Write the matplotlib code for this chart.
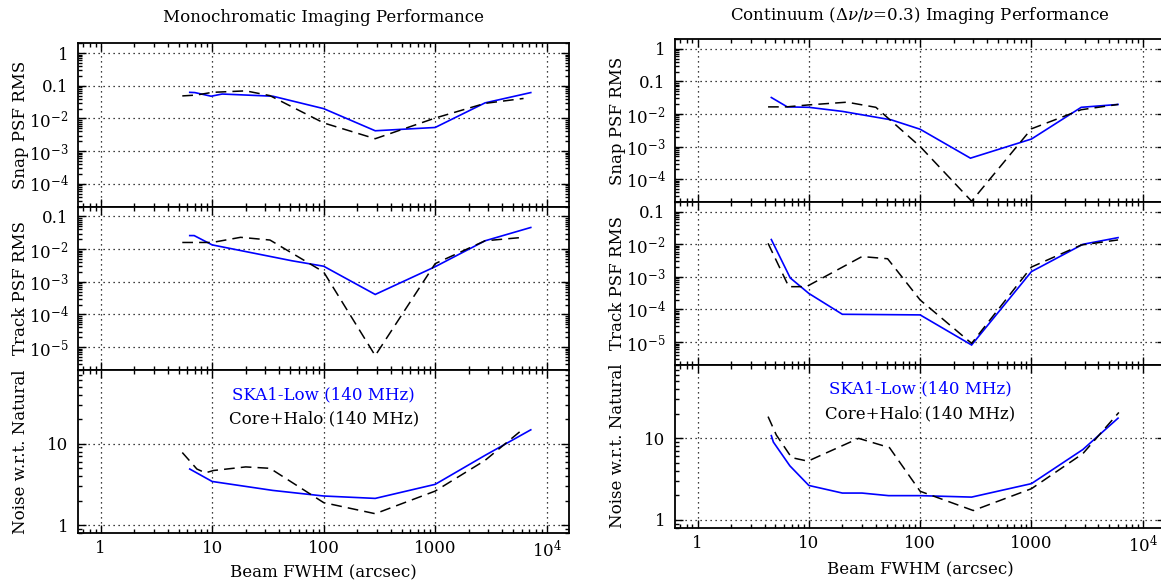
import numpy as np
import matplotlib
matplotlib.use('Agg')
import matplotlib.pyplot as plt
from matplotlib.ticker import LogLocator, FixedLocator, FixedFormatter, NullFormatter

plt.rcParams['font.family'] = ['DejaVu Serif']
plt.rcParams['mathtext.fontset'] = 'dejavuserif'

# ---------------- data ----------------
titles = ["Monochromatic Imaging Performance",
          r"Continuum ($\Delta\nu/\nu$=0.3) Imaging Performance"]
row_labels = ["Snap PSF RMS", "Track PSF RMS", "Noise w.r.t. Natural"]
x_label = "Beam FWHM (arcsec)"
legend_labels = ["SKA1-Low (140 MHz)", "Core+Halo (140 MHz)"]

x_ticks = [1, 10, 100, 1000, 10000]
x_tick_labels = ["1", "10", "100", "1000", r"$10^4$"]
snap_ticks = [1, 0.1, 1e-2, 1e-3, 1e-4]
snap_tick_labels = ["1", "0.1", r"$10^{-2}$", r"$10^{-3}$", r"$10^{-4}$"]
track_ticks = [0.1, 1e-2, 1e-3, 1e-4, 1e-5]
track_tick_labels = ["0.1", r"$10^{-2}$", r"$10^{-3}$", r"$10^{-4}$", r"$10^{-5}$"]
noise_ticks = [1, 10]
noise_tick_labels = ["1", "10"]

# Monochromatic - SKA1-Low (blue)
mono_snap_ska_x = [6.3, 7.0, 9.8, 12.3, 35, 100, 290, 1000, 2800, 7200]
mono_snap_ska_y = [0.063, 0.062, 0.048, 0.056, 0.048, 0.020, 0.0042, 0.0053, 0.030, 0.062]
mono_track_ska_x = [6.3, 6.9, 10, 52, 100, 290, 1000, 2800, 7200]
mono_track_ska_y = [0.026, 0.026, 0.0135, 0.0044, 0.0030, 0.00041, 0.0029, 0.018, 0.046]
mono_noise_ska_x = [6.3, 10, 35, 100, 290, 1000, 2800, 7200]
mono_noise_ska_y = [4.9, 3.45, 2.68, 2.29, 2.14, 3.18, 7.2, 14.8]
# Monochromatic - Core+Halo (black dashed)
mono_snap_ch_x = [5.4, 7.2, 10, 20, 33, 100, 290, 1000, 2800, 6200]
mono_snap_ch_y = [0.049, 0.052, 0.063, 0.070, 0.050, 0.0073, 0.0024, 0.0103, 0.029, 0.041]
mono_track_ch_x = [5.4, 10, 18, 33, 100, 290, 1000, 2800, 6200]
mono_track_ch_y = [0.016, 0.016, 0.023, 0.019, 0.0020, 5.5e-6, 0.0036, 0.018, 0.023]
mono_noise_ch_x = [5.4, 7.3, 8.7, 10.3, 20, 33, 100, 290, 1000, 2800, 6200]
mono_noise_ch_y = [7.8, 4.9, 4.4, 4.7, 5.2, 5.0, 1.9, 1.39, 2.63, 6.25, 15.3]

# Continuum - SKA1-Low (blue)
cont_snap_ska_x = [4.6, 6.4, 10, 20, 55, 100, 283, 1000, 2800, 6000]
cont_snap_ska_y = [0.032, 0.0165, 0.016, 0.012, 0.0066, 0.0034, 0.00044, 0.0017, 0.016, 0.0196]
cont_track_ska_x = [4.6, 6.8, 10, 20, 100, 290, 1000, 2900, 6000]
cont_track_ska_y = [0.014, 9.3e-4, 3.1e-4, 7.1e-5, 6.8e-5, 8.1e-6, 0.00145, 0.010, 0.016]
cont_noise_ska_x = [4.6, 4.8, 6.75, 10, 20, 30, 52, 100, 290, 1000, 2900, 6000]
cont_noise_ska_y = [10.8, 9.0, 4.6, 2.64, 2.13, 2.13, 1.98, 1.98, 1.9, 2.78, 7.3, 17.7]
# Continuum - Core+Halo (black dashed)
cont_snap_ch_x = [4.3, 6.3, 10, 22, 40, 100, 290, 1000, 2800, 6000]
cont_snap_ch_y = [0.0165, 0.0165, 0.019, 0.023, 0.016, 0.001, 2.1e-5, 0.0035, 0.0135, 0.0196]
cont_track_ch_x = [4.3, 6.6, 9.5, 30, 51, 100, 290, 1000, 2800, 6000]
cont_track_ch_y = [0.0107, 5e-4, 5e-4, 0.0042, 0.0036, 1.95e-4, 9.1e-6, 0.002, 0.0095, 0.0136]
cont_noise_ch_x = [4.3, 5.1, 7, 9.8, 28, 53, 100, 300, 1000, 2900, 6100]
cont_noise_ch_y = [18.5, 11.0, 5.8, 5.25, 10, 7.7, 2.24, 1.3, 2.41, 6.5, 20.8]

XLIM = (10 ** -0.2, 10 ** 4.2)
SNAP_LIM = (2e-5, 2.0)
TRACK_LIM = (2e-6, 0.2)
NOISE_LIM = (0.8, 80)

BLUE = '#0000ff'
W, H = 1161, 587

fig = plt.figure(figsize=(W / 100, H / 100), dpi=100)

panels = [
    dict(left=78.3, right=569.0, top=43.3, bottom=533.3, title=titles[0],
         data=[(mono_snap_ska_x, mono_snap_ska_y, mono_snap_ch_x, mono_snap_ch_y),
               (mono_track_ska_x, mono_track_ska_y, mono_track_ch_x, mono_track_ch_y),
               (mono_noise_ska_x, mono_noise_ska_y, mono_noise_ch_x, mono_noise_ch_y)],
         title_y=17, xlabel_y=573),
    dict(left=675.3, right=1165.0, top=39.0, bottom=527.7, title=titles[1],
         data=[(cont_snap_ska_x, cont_snap_ska_y, cont_snap_ch_x, cont_snap_ch_y),
               (cont_track_ska_x, cont_track_ska_y, cont_track_ch_x, cont_track_ch_y),
               (cont_noise_ska_x, cont_noise_ska_y, cont_noise_ch_x, cont_noise_ch_y)],
         title_y=15, xlabel_y=570),
]

rows = [(SNAP_LIM, snap_ticks, snap_tick_labels),
        (TRACK_LIM, track_ticks, track_tick_labels),
        (NOISE_LIM, noise_ticks, noise_tick_labels)]

FS = 12

for p in panels:
    x0 = p['left'] / W
    w = (p['right'] - p['left']) / W
    hpx = (p['bottom'] - p['top']) / 3.0
    for i in range(3):
        top_px = p['top'] + i * hpx
        y0 = 1 - (top_px + hpx) / H
        ax = fig.add_axes([x0, y0, w, hpx / H])
        ylim, yt, ytl = rows[i]
        sx, sy, cx, cy = p['data'][i]
        ax.plot(sx, sy, color=BLUE, lw=1.2, solid_joinstyle='miter')
        ax.plot(cx, cy, color='black', lw=1.1, linestyle=(0, (7, 4)))
        ax.set_xscale('log')
        ax.set_yscale('log')
        ax.set_xlim(*XLIM)
        ax.set_ylim(*ylim)
        ax.xaxis.set_major_locator(FixedLocator(x_ticks))
        ax.xaxis.set_minor_locator(LogLocator(base=10, subs=np.arange(2, 10), numticks=100))
        ax.xaxis.set_minor_formatter(NullFormatter())
        ax.yaxis.set_major_locator(FixedLocator(yt))
        ax.yaxis.set_major_formatter(FixedFormatter(ytl))
        ax.yaxis.set_minor_locator(LogLocator(base=10, subs=np.arange(2, 10), numticks=100))
        ax.yaxis.set_minor_formatter(NullFormatter())
        if i == 2:
            ax.xaxis.set_major_formatter(FixedFormatter(x_tick_labels))
        else:
            ax.xaxis.set_major_formatter(NullFormatter())
        ax.tick_params(which='both', direction='in', top=True, right=True,
                       labelsize=FS, width=1.0)
        ax.tick_params(which='major', length=5.5)
        ax.tick_params(which='minor', length=3)
        ax.tick_params(axis='y', which='major', pad=7)
        ax.tick_params(axis='x', which='major', pad=5)
        ax.grid(True, which='major', color='black', linestyle=(0, (1, 3)), linewidth=0.9)
        for s in ax.spines.values():
            s.set_linewidth(1.3)
        ax.set_ylabel(row_labels[i], fontsize=FS)
        ax.yaxis.set_label_coords(-0.1, 0.5)
        if i == 2:
            ax.text(0.5, 0.85, legend_labels[0], color=BLUE, fontsize=FS,
                    ha='center', va='center', transform=ax.transAxes)
            ax.text(0.5, 0.70, legend_labels[1], color='black', fontsize=FS,
                    ha='center', va='center', transform=ax.transAxes)
    cx_fig = (p['left'] + p['right']) / 2 / W
    fig.text(cx_fig, 1 - p['title_y'] / H, p['title'], fontsize=FS,
             ha='center', va='center')
    fig.text(cx_fig, 1 - p['xlabel_y'] / H, x_label, fontsize=FS,
             ha='center', va='center')

fig.savefig('out.png', dpi=100)
